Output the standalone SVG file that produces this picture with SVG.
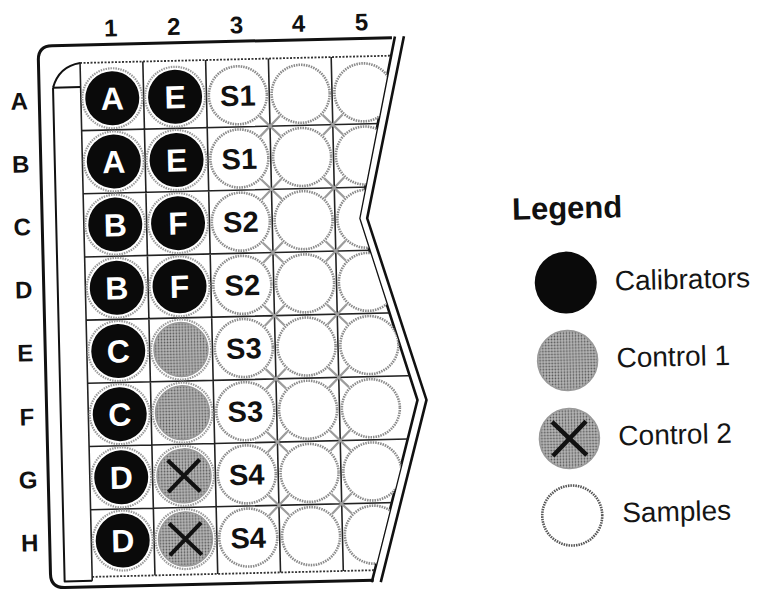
<svg xmlns="http://www.w3.org/2000/svg" width="760" height="590" viewBox="0 0 760 590">
<defs>
<pattern id="stip" width="3" height="3" patternUnits="userSpaceOnUse"><rect width="3" height="3" fill="#b8b8b8"/><circle cx="1.5" cy="1.5" r="0.9" fill="#555"/></pattern>
<clipPath id="plateClip"><polygon points="0,0 409,0 361,218 415,401 360,600 0,600"/></clipPath>
</defs>
<style>
.lbl{font-family:"Liberation Sans",Arial,sans-serif;font-weight:bold;font-size:24px;fill:#111;text-anchor:middle}
.wl{font-family:"Liberation Sans",Arial,sans-serif;font-weight:bold;font-size:32px;fill:#fff;text-anchor:middle}
.sl{font-family:"Liberation Sans",Arial,sans-serif;font-weight:bold;font-size:29px;fill:#111;text-anchor:middle}
.leg{font-family:"Liberation Sans",Arial,sans-serif;font-size:28px;fill:#151515}
.frame{fill:none;stroke:#111;stroke-width:3;stroke-linejoin:round}
.dbl{fill:none;stroke:#111;stroke-width:2.6;stroke-linejoin:miter}
.grid{fill:none;stroke:#222;stroke-width:1.6}
.dot{fill:none;stroke:#333;stroke-width:1.8;stroke-dasharray:2 1.5}
.cal{fill:#0a0a0a;stroke:none}
.rim{fill:none;stroke:#9a9a9a;stroke-width:2.2;stroke-dasharray:1.5 1}
.smp{fill:#fff;stroke:#8a8a8a;stroke-width:2.6;stroke-dasharray:1.5 1}
.ctl{fill:url(#stip);stroke:#999;stroke-width:1.5}
.xx{stroke:#111;stroke-width:4;stroke-linecap:butt}
.wall{fill:none;stroke:#9c9c9c;stroke-width:2.2}
</style>
<g transform="rotate(-1.35 380 295)">
<g id="plate-frame">
<path class="frame" d="M398 38 L58 38 Q44 38 44 52 L44 566 Q44 580 58 580 L367 580"/>
<polyline class="dbl" points="401,37 361,218 415,401 365,582"/>
<polyline class="dbl" points="410,37 369,218 424,401 374,582"/>
<path class="frame" style="stroke-width:2" d="M58 80 L58 574 L85.6 574 M58 80 L85.6 80 M58 80 C62 67 71 58 85.6 56"/>
</g>
<g id="grid" clip-path="url(#plateClip)">
<path class="dot" d="M85.6 56 L420 56 M85.6 570 L420 570"/>
<path class="grid" d="M85.6 56 L85.6 574 M148.4 56 L148.4 570 M211.2 56 L211.2 570 M274 56 L274 570 M336.8 56 L336.8 570 M85.6 123.6 L430 123.6 M85.6 186.8 L430 186.8 M85.6 250 L430 250 M85.6 313.2 L430 313.2 M85.6 376.4 L430 376.4 M85.6 439.6 L430 439.6 M85.6 502.8 L430 502.8"/>
<path class="wall" d="M264 113.6 L284 133.6 M264 133.6 L284 113.6 M326.8 113.6 L346.8 133.6 M326.8 133.6 L346.8 113.6 M264 176.8 L284 196.8 M264 196.8 L284 176.8 M326.8 176.8 L346.8 196.8 M326.8 196.8 L346.8 176.8 M264 240 L284 260 M264 260 L284 240 M326.8 240 L346.8 260 M326.8 260 L346.8 240 M264 303.2 L284 323.2 M264 323.2 L284 303.2 M326.8 303.2 L346.8 323.2 M326.8 323.2 L346.8 303.2 M264 366.4 L284 386.4 M264 386.4 L284 366.4 M326.8 366.4 L346.8 386.4 M326.8 386.4 L346.8 366.4 M264 429.6 L284 449.6 M264 449.6 L284 429.6 M326.8 429.6 L346.8 449.6 M326.8 449.6 L346.8 429.6 M264 492.8 L284 512.8 M264 512.8 L284 492.8 M326.8 492.8 L346.8 512.8 M326.8 512.8 L346.8 492.8"/>
</g>
<g id="row-labels">
<text class="lbl" x="24" y="101">A</text>
<text class="lbl" x="24" y="164">B</text>
<text class="lbl" x="24" y="227">C</text>
<text class="lbl" x="24" y="290">D</text>
<text class="lbl" x="24" y="353">E</text>
<text class="lbl" x="24" y="417">F</text>
<text class="lbl" x="24" y="480">G</text>
<text class="lbl" x="24" y="543">H</text>
</g>
<g id="col-labels">
<text class="lbl" x="117" y="30">1</text>
<text class="lbl" x="180" y="30">2</text>
<text class="lbl" x="243" y="30">3</text>
<text class="lbl" x="305" y="30">4</text>
<text class="lbl" x="368" y="30">5</text>
</g>
<g id="col1-calibrators">
<circle class="rim" cx="117" cy="92" r="30"/><circle class="cal" cx="117" cy="92" r="27"/><text class="wl" x="117" y="103.5">A</text>
<circle class="rim" cx="117" cy="155.2" r="30"/><circle class="cal" cx="117" cy="155.2" r="27"/><text class="wl" x="117" y="166.7">A</text>
<circle class="rim" cx="117" cy="218.4" r="30"/><circle class="cal" cx="117" cy="218.4" r="27"/><text class="wl" x="117" y="229.9">B</text>
<circle class="rim" cx="117" cy="281.6" r="30"/><circle class="cal" cx="117" cy="281.6" r="27"/><text class="wl" x="117" y="293.1">B</text>
<circle class="rim" cx="117" cy="344.8" r="30"/><circle class="cal" cx="117" cy="344.8" r="27"/><text class="wl" x="117" y="356.3">C</text>
<circle class="rim" cx="117" cy="408" r="30"/><circle class="cal" cx="117" cy="408" r="27"/><text class="wl" x="117" y="419.5">C</text>
<circle class="rim" cx="117" cy="471.2" r="30"/><circle class="cal" cx="117" cy="471.2" r="27"/><text class="wl" x="117" y="482.7">D</text>
<circle class="rim" cx="117" cy="534.4" r="30"/><circle class="cal" cx="117" cy="534.4" r="27"/><text class="wl" x="117" y="545.9">D</text>
</g>
<g id="col2-calibrators-controls">
<circle class="rim" cx="179.8" cy="92" r="30"/><circle class="cal" cx="179.8" cy="92" r="27"/><text class="wl" x="179.8" y="103.5">E</text>
<circle class="rim" cx="179.8" cy="155.2" r="30"/><circle class="cal" cx="179.8" cy="155.2" r="27"/><text class="wl" x="179.8" y="166.7">E</text>
<circle class="rim" cx="179.8" cy="218.4" r="30"/><circle class="cal" cx="179.8" cy="218.4" r="27"/><text class="wl" x="179.8" y="229.9">F</text>
<circle class="rim" cx="179.8" cy="281.6" r="30"/><circle class="cal" cx="179.8" cy="281.6" r="27"/><text class="wl" x="179.8" y="293.1">F</text>
<circle class="rim" cx="179.8" cy="344.8" r="30"/><circle class="ctl" cx="179.8" cy="344.8" r="27"/>
<circle class="rim" cx="179.8" cy="408" r="30"/><circle class="ctl" cx="179.8" cy="408" r="27"/>
<circle class="rim" cx="179.8" cy="471.2" r="30"/><circle class="ctl" cx="179.8" cy="471.2" r="27"/><path class="xx" d="M163.8 455.2 L195.8 487.2 M163.8 487.2 L195.8 455.2"/>
<circle class="rim" cx="179.8" cy="534.4" r="30"/><circle class="ctl" cx="179.8" cy="534.4" r="27"/><path class="xx" d="M163.8 518.4 L195.8 550.4 M163.8 550.4 L195.8 518.4"/>
</g>
<g id="col3-samples">
<circle class="smp" cx="242.6" cy="92" r="29"/><text class="sl" x="242.6" y="102.5">S1</text>
<circle class="smp" cx="242.6" cy="155.2" r="29"/><text class="sl" x="242.6" y="165.7">S1</text>
<circle class="smp" cx="242.6" cy="218.4" r="29"/><text class="sl" x="242.6" y="228.9">S2</text>
<circle class="smp" cx="242.6" cy="281.6" r="29"/><text class="sl" x="242.6" y="292.1">S2</text>
<circle class="smp" cx="242.6" cy="344.8" r="29"/><text class="sl" x="242.6" y="355.3">S3</text>
<circle class="smp" cx="242.6" cy="408" r="29"/><text class="sl" x="242.6" y="418.5">S3</text>
<circle class="smp" cx="242.6" cy="471.2" r="29"/><text class="sl" x="242.6" y="481.7">S4</text>
<circle class="smp" cx="242.6" cy="534.4" r="29"/><text class="sl" x="242.6" y="544.9">S4</text>
</g>
<g id="col4-5-empty" clip-path="url(#plateClip)">
<circle class="smp" cx="305.4" cy="92" r="29"/><circle class="smp" cx="305.4" cy="155.2" r="29"/><circle class="smp" cx="305.4" cy="218.4" r="29"/><circle class="smp" cx="305.4" cy="281.6" r="29"/><circle class="smp" cx="305.4" cy="344.8" r="29"/><circle class="smp" cx="305.4" cy="408" r="29"/><circle class="smp" cx="305.4" cy="471.2" r="29"/><circle class="smp" cx="305.4" cy="534.4" r="29"/>
<circle class="smp" cx="368.2" cy="92" r="29"/><circle class="smp" cx="368.2" cy="155.2" r="29"/><circle class="smp" cx="368.2" cy="218.4" r="29"/><circle class="smp" cx="368.2" cy="281.6" r="29"/><circle class="smp" cx="368.2" cy="344.8" r="29"/><circle class="smp" cx="368.2" cy="408" r="29"/><circle class="smp" cx="368.2" cy="471.2" r="29"/><circle class="smp" cx="368.2" cy="534.4" r="29"/>
</g>
<g id="legend">
<text x="514" y="223" style="font-family:'Liberation Sans',Arial,sans-serif;font-weight:bold;font-size:31px;fill:#111">Legend</text>
<g id="legend-calibrators"><circle class="cal" cx="566" cy="287" r="31"/><text class="leg" x="615" y="296">Calibrators</text></g>
<g id="legend-control1"><circle class="ctl" cx="566" cy="365" r="30"/><text class="leg" x="615" y="373">Control 1</text></g>
<g id="legend-control2"><circle class="ctl" cx="566" cy="443" r="30"/><path class="xx" style="stroke-width:4.5" d="M549 426 L583 460 M549 460 L583 426"/><text class="leg" x="615" y="451">Control 2</text></g>
<g id="legend-samples"><circle class="smp" style="stroke:#555" cx="567" cy="520" r="30"/><text class="leg" x="617" y="528">Samples</text></g>
</g>
</g>
</svg>
